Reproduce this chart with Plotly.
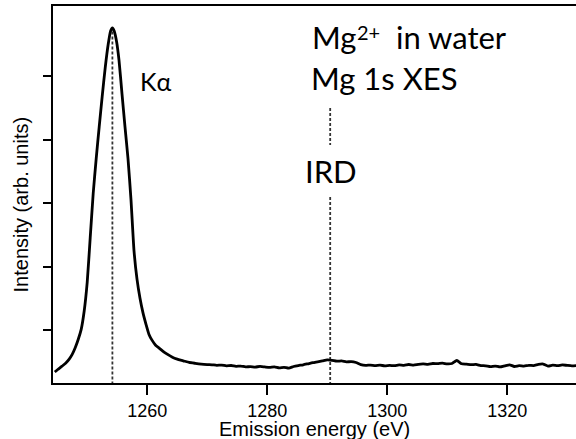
import plotly.graph_objects as go

# Emission energy (eV) and intensity (arb. units)
energy = [
    1244.6, 1245.2, 1245.8, 1246.4, 1247.0, 1247.5, 1248.0, 1248.5, 1249.0, 1249.5,
    1250.0, 1250.5, 1251.0, 1251.5, 1252.0, 1252.5, 1253.0, 1253.5, 1253.9, 1254.2,
    1254.5, 1254.9, 1255.3, 1255.8, 1256.3, 1256.8, 1257.3, 1257.8, 1258.3, 1258.8,
    1259.3, 1259.8, 1260.3, 1260.8, 1261.4, 1262.0, 1262.7, 1263.4, 1264.2, 1265.0,
    1266.0, 1267.0, 1268.0, 1269.0, 1270.0,
    1270.8, 1271.6, 1272.4, 1273.2, 1274.0, 1274.8, 1275.6, 1276.4, 1277.2, 1278.0,
    1278.8, 1279.6, 1280.4, 1281.2, 1282.0, 1282.8, 1283.6, 1284.4, 1285.2, 1286.0,
    1286.8, 1287.6, 1288.4, 1289.2, 1290.0, 1290.8, 1291.6, 1292.4, 1293.2, 1294.0,
    1294.8, 1295.6, 1296.4, 1297.2, 1298.0, 1298.8, 1299.6, 1300.4, 1301.2, 1302.0,
    1302.8, 1303.6, 1304.4, 1305.2, 1306.0, 1306.8, 1307.6, 1308.4, 1309.2, 1310.0,
    1310.8, 1311.6, 1312.4, 1313.2, 1314.0, 1314.8, 1315.6, 1316.4, 1317.2, 1318.0,
    1318.8, 1319.6, 1320.4, 1321.2, 1322.0, 1322.8, 1323.6, 1324.4, 1325.2, 1326.0,
    1326.8, 1327.6, 1328.4, 1329.2, 1330.0, 1330.8, 1331.6,
]
intensity = [
    338, 385, 430, 475, 540, 615, 720, 850, 1010, 1300,
    1750, 2450, 3150, 3700, 4200, 4680, 5130, 5500, 5710, 5760,
    5710, 5540, 5250, 4720, 4200, 3700, 3050, 2250, 1800, 1500,
    1270, 1090, 930, 840, 760, 715, 660, 615, 570, 540,
    515, 490, 475, 462, 455,
    452, 444, 448, 436, 441, 428, 432, 418, 424, 415,
    427, 418, 410, 420, 404, 412, 398, 425, 440, 452,
    468, 485, 498, 512, 528, 522, 508, 512, 498, 502,
    488, 455, 442, 448, 440, 446, 435, 442, 438, 450,
    444, 456, 448, 460, 466, 458, 472, 470, 478, 466,
    472, 520, 468, 462, 454, 458, 440, 436, 422, 432,
    418, 435, 452, 425, 438, 430, 444, 440, 458, 464,
    432, 446, 438, 450, 442, 436, 440,
]

# Marker lines
kalpha_energy = 1254.2
kalpha_span = [5700, 165]
ird_energy = 1290.5
ird_spans = [[4496, 3914], [3095, 165]]

x_ticks = [1260, 1280, 1300, 1320]
y_ticks = [1000, 2000, 3000, 4000, 5000]
x_range = [1244.3, 1331.47]
y_range = [165, 6103]

fig = go.Figure()

dash_style = dict(color="#333333", width=1.8, dash="3px,2px")

fig.add_trace(go.Scatter(
    x=[kalpha_energy, kalpha_energy], y=kalpha_span,
    mode="lines", line=dash_style, showlegend=False, hoverinfo="skip"))

ird_x, ird_y = [], []
for seg in ird_spans:
    ird_x += [ird_energy, ird_energy, None]
    ird_y += [seg[0], seg[1], None]
fig.add_trace(go.Scatter(
    x=ird_x, y=ird_y, mode="lines", line=dash_style,
    showlegend=False, hoverinfo="skip", connectgaps=False))

fig.add_trace(go.Scatter(
    x=energy, y=intensity, mode="lines",
    line=dict(color="black", width=2.8, shape="spline", smoothing=0.5),
    showlegend=False))

label_font = dict(family="Lato", color="black", size=31)
# "Mg²⁺ in water" built from three pieces so the superscript sits like the original
fig.add_annotation(x=1287.1, y=5607, xref="x", yref="y", text="Mg",
                   showarrow=False, xanchor="left", yanchor="middle", font=label_font)
fig.add_annotation(x=1294.6, y=5690, xref="x", yref="y", text="2+",
                   showarrow=False, xanchor="left", yanchor="middle",
                   font=dict(family="Lato", color="black", size=20))
fig.add_annotation(x=1301.1, y=5607, xref="x", yref="y", text="in water",
                   showarrow=False, xanchor="left", yanchor="middle", font=label_font)
fig.add_annotation(x=1287.0, y=4964, xref="x", yref="y", text="Mg 1s XES",
                   showarrow=False, xanchor="left", yanchor="middle", font=label_font)
fig.add_annotation(x=1286.0, y=3500, xref="x", yref="y", text="IRD",
                   showarrow=False, xanchor="left", yanchor="middle", font=label_font)
fig.add_annotation(x=1258.4, y=4922, xref="x", yref="y", text="Kα",
                   showarrow=False, xanchor="left", yanchor="middle",
                   font=dict(family="Lato", color="black", size=25))

tick_font = dict(family="Liberation Sans, Arial, sans-serif", size=18, color="black")
title_font = dict(family="Liberation Sans, Arial, sans-serif", size=20, color="black")

# Axis titles placed as annotations (the original crops the x title at the bottom)
fig.add_annotation(x=0.5, y=-0.1223, xref="paper", yref="paper",
                   text="Emission energy (eV)", showarrow=False,
                   xanchor="center", yanchor="middle", font=title_font)
fig.add_annotation(x=-0.0593, y=0.4735, xref="paper", yref="paper",
                   text="Intensity (arb. units)", showarrow=False, textangle=-90,
                   xanchor="center", yanchor="middle", font=title_font)

fig.update_xaxes(
    range=x_range, tickvals=x_ticks, ticks="outside", ticklen=10, tickwidth=1.5,
    tickcolor="black", showline=True, linewidth=2, linecolor="black", mirror=True,
    showgrid=False, zeroline=False, tickfont=tick_font)
fig.update_yaxes(
    range=y_range, tickvals=y_ticks, ticks="outside", ticklen=8, tickwidth=1.5,
    tickcolor="black", showline=True, linewidth=2, linecolor="black", mirror=False,
    showgrid=False, zeroline=False, showticklabels=False)

fig.update_layout(
    width=576, height=439,
    margin=dict(l=53, r=0, t=6, b=56),
    plot_bgcolor="white", paper_bgcolor="white",
)

fig.write_html("out.html")
